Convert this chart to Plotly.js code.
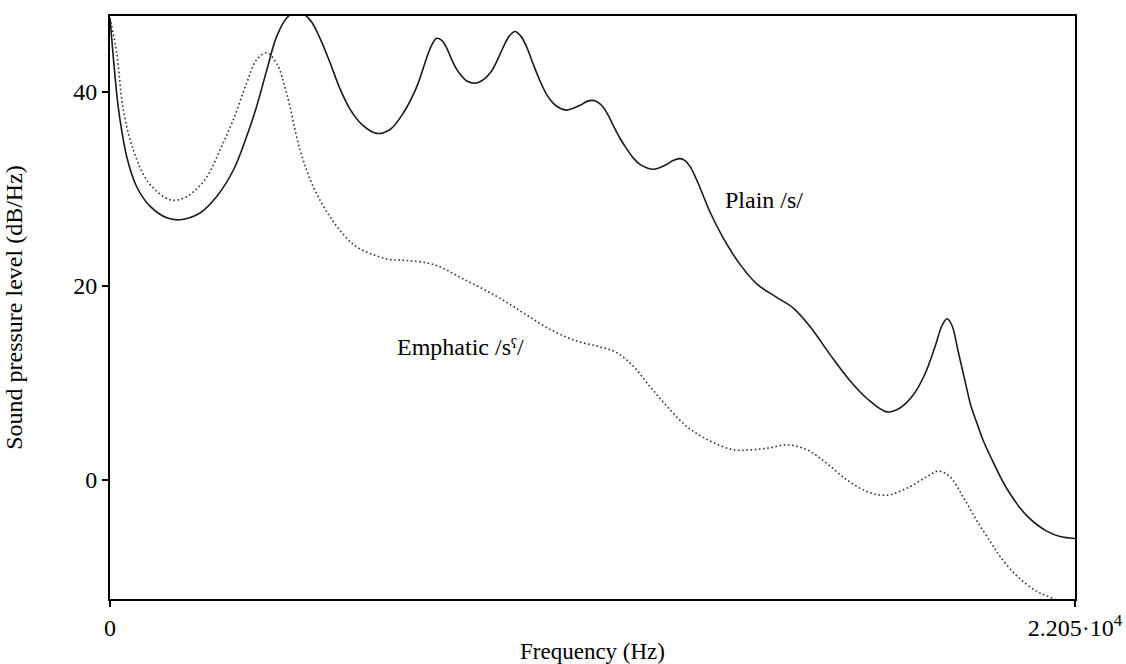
<!DOCTYPE html>
<html>
<head>
<meta charset="utf-8">
<script src="https://cdn.plot.ly/plotly-3.0.1.min.js"></script>
<style>
  html, body { margin: 0; padding: 0; background: #fff; }
  #chart { width: 1126px; height: 664px; }
</style>
</head>
<body>
<div id="chart"></div>
<script>
// Long-term average spectra of plain and emphatic sibilants
const plainFreq = [0, 153, 229, 382, 610, 914, 1296, 1600, 2056, 2438, 2817, 3124, 3352, 3581, 3809, 4038, 4296,
  4570, 4799, 5027, 5256, 5484, 5758, 6094, 6398, 6702, 7008, 7237, 7351, 7465, 7580, 7694, 7808, 7922, 8037,
  8151, 8379, 8683, 8987, 9117, 9254, 9391, 9522, 9665, 9826, 9979, 10130, 10282, 10435, 10740, 10899, 11044,
  11151, 11272, 11379, 11501, 11653, 11807, 11951, 12110, 12415, 12721, 12864, 13025, 13139, 13253, 13367,
  13482, 13710, 14014, 14396, 14777, 15234, 15613, 15995, 16452, 16909, 17291, 17748, 18051, 18348, 18622,
  18851, 19011, 19125, 19239, 19377, 19576, 19673, 19804, 19948, 20108, 20490, 20947, 21404, 21707, 22050];
const plainLevel = [47.6, 39.8, 37.1, 33.3, 30.2, 28.2, 27.0, 26.8, 27.5, 29.2, 31.9, 35.4, 38.5, 42.2, 45.7, 47.6, 48.3,
  47.4, 45.5, 43.0, 40.3, 38.2, 36.6, 35.7, 36.1, 37.8, 40.5, 43.5, 44.8, 45.5, 45.3, 44.5, 43.3, 42.3, 41.6,
  41.1, 40.9, 41.9, 44.6, 45.7, 46.2, 45.7, 44.6, 42.9, 41.1, 39.7, 38.8, 38.3, 38.1, 38.6, 39.0, 39.1,
  38.9, 38.4, 37.6, 36.5, 35.2, 34.1, 33.2, 32.5, 32.0, 32.5, 32.9, 33.1, 32.9, 32.3, 31.3,
  30.1, 27.6, 24.9, 22.2, 20.2, 18.8, 17.7, 15.8, 12.9, 10.2, 8.4, 7.0, 7.4, 8.7, 10.9,
  13.7, 15.9, 16.6, 15.9, 13.3, 9.4, 7.6, 5.9, 4.1, 2.5, -0.9, -3.7, -5.3, -5.85, -6.05];

const emphFreq = [0, 153, 305, 533, 838, 1219, 1485, 1828, 2209, 2514, 2817, 3124, 3352, 3581, 3809, 4038, 4342,
  4645, 5027, 5408, 5637, 6016, 6398, 6779, 7387, 8073, 8836, 9444, 10054, 10664, 11197, 11578, 11958, 12339,
  12721, 13178, 13710, 14243, 14700, 15081, 15462, 15919, 16376, 16834, 17291, 17748, 18280, 18661, 18927,
  19194, 19498, 19804, 20147, 20337, 20718, 21175, 21479, 21750, 22050];
const emphLevel = [47.6, 44.0, 38.1, 34.0, 30.9, 29.2, 28.8, 29.4, 31.2, 34.0, 37.1, 40.9, 43.3, 44.0, 42.9, 39.8, 34.0,
  30.2, 27.1, 24.9, 24.0, 23.2, 22.7, 22.6, 22.2, 20.7, 18.9, 17.2, 15.5, 14.3, 13.7, 13.1, 11.7, 9.6,
  7.6, 5.5, 4.0, 3.1, 3.1, 3.3, 3.6, 3.1, 1.7, 0.0, -1.2, -1.6, -0.7, 0.3, 0.9,
  0.3, -1.8, -4.2, -6.6, -7.9, -9.9, -11.5, -12.1, -12.6, -13.0];

const yTicks = [0, 20, 40];
const xTicks = [0, 22050];
const xTickText = ['0', '2.205·10<sup>4</sup>'];

const serif = 'Liberation Serif, Times New Roman, serif';
const textFont = { family: serif, size: 24, color: '#000' };

const traces = [
  {
    x: plainFreq, y: plainLevel, type: 'scatter', mode: 'lines', name: 'Plain /s/',
    line: { color: '#1a1a1a', width: 1.6, shape: 'spline', smoothing: 1, simplify: false }
  },
  {
    x: emphFreq, y: emphLevel, type: 'scatter', mode: 'lines', name: 'Emphatic /sˤ/',
    line: { color: '#333333', width: 1.6, dash: '1.6px,2.6px', shape: 'spline', smoothing: 1, simplify: false }
  }
];

const layout = {
  width: 1126, height: 664,
  margin: { l: 110, r: 51, t: 16, b: 65 },
  paper_bgcolor: '#fff', plot_bgcolor: '#fff',
  showlegend: false,
  font: textFont,
  xaxis: {
    range: [0, 22050], tickvals: xTicks, ticktext: xTickText,
    ticks: 'outside', ticklen: 6, tickwidth: 2, tickcolor: '#000',
    showline: true, linecolor: '#000', linewidth: 2, mirror: true,
    showgrid: false, zeroline: false,
    tickfont: textFont,
    title: { text: 'Frequency (Hz)', font: { family: serif, size: 23, color: '#000' }, standoff: 8 }
  },
  yaxis: {
    range: [-12.29, 47.8], tickvals: yTicks,
    ticks: 'outside', ticklen: 6, tickwidth: 2, tickcolor: '#000',
    showline: true, linecolor: '#000', linewidth: 2, mirror: true,
    showgrid: false, zeroline: false,
    tickfont: textFont,
    title: { text: 'Sound pressure level (dB/Hz)', font: textFont, standoff: 44 }
  },
  annotations: [
    { x: 14944, y: 28.85, xref: 'x', yref: 'y', text: 'Plain /s/', showarrow: false, font: textFont },
    { x: 8020, y: 13.7, xref: 'x', yref: 'y', text: 'Emphatic /sˤ/', showarrow: false, font: textFont }
  ]
};

Plotly.newPlot('chart', traces, layout, { staticPlot: true, displayModeBar: false });
</script>
</body>
</html>
